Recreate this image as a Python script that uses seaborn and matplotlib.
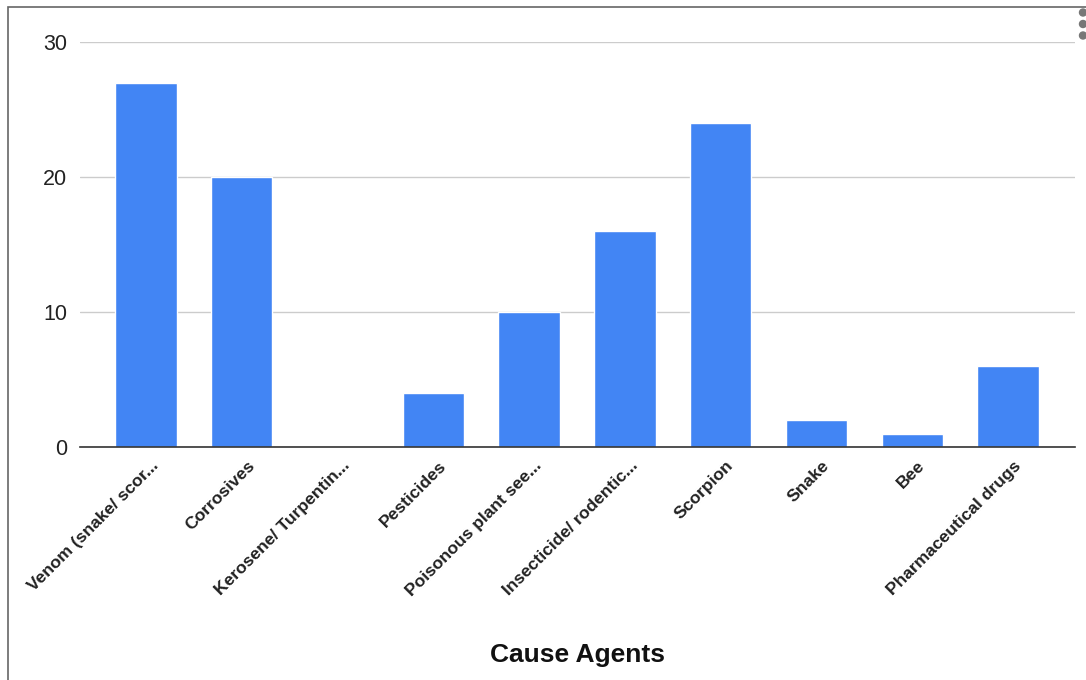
import seaborn as sns
import pandas as pd
import matplotlib.pyplot as plt
from matplotlib.patches import Rectangle, Ellipse
from matplotlib.transforms import ScaledTranslation

categories = ['Venom (snake/ scor...', 'Corrosives', 'Kerosene/ Turpentin...', 'Pesticides',
              'Poisonous plant see...', 'Insecticide/ rodentic...', 'Scorpion', 'Snake', 'Bee',
              'Pharmaceutical drugs']
values = [27, 20, 0, 4, 10, 16, 24, 2, 1, 6]
y_ticks = [0, 10, 20, 30]

data = pd.DataFrame({'agent': categories, 'count': values})

sns.set_style('white')
plt.rcParams['font.family'] = ['Liberation Sans', 'DejaVu Sans']

fig = plt.figure(figsize=(10.86, 6.8), dpi=100)
ax = fig.add_axes([80 / 1086, 1 - 447 / 680, 995 / 1086, 405 / 680])

sns.barplot(x='agent', y='count', data=data, color='#4285F4', width=0.64,
            saturation=1, ax=ax, zorder=3)

ax.set_ylim(0, 30)
ax.set_xlim(-0.69, 9.70)
ax.set_yticks(y_ticks)
ax.set_yticklabels([str(t) for t in y_ticks], fontsize=15.5, color='#222222')
ax.yaxis.grid(True, color='#cccccc', linewidth=1, zorder=0)
ax.tick_params(axis='y', length=0, pad=9)
ax.tick_params(axis='x', length=0, pad=8)
for s in ['top', 'right', 'left']:
    ax.spines[s].set_visible(False)
ax.spines['bottom'].set_color('#333333')
ax.spines['bottom'].set_linewidth(1.2)
ax.spines['bottom'].set_zorder(4)

ax.set_xticks(range(len(categories)))
ax.set_xticklabels(categories, rotation=45, ha='right', rotation_mode='anchor',
                   fontsize=12.6, fontweight='bold', color='#222222')
# nudge rotated labels a little to the right
shift = ScaledTranslation(5 / 100, 0, fig.dpi_scale_trans)
for lab in ax.get_xticklabels():
    lab.set_transform(lab.get_transform() + shift)
ax.set_ylabel('')
ax.set_xlabel('Cause Agents', fontsize=19, fontweight='bold', color='#111111')
ax.xaxis.set_label_coords(0.5, -0.485)

# frame around the screenshot
fig.patches.append(Rectangle((8 / 1086, -0.1), 1.2, 1 - 7 / 680 + 0.1, transform=fig.transFigure,
                             fill=False, edgecolor='#666666', linewidth=1.2))
# menu dots
for yy in [12.5, 24, 35.5]:
    fig.patches.append(Ellipse((1083 / 1086, 1 - yy / 680), 7 / 1086, 7 / 680,
                               transform=fig.transFigure, color='#777777'))

plt.savefig('out.png', dpi=100)
